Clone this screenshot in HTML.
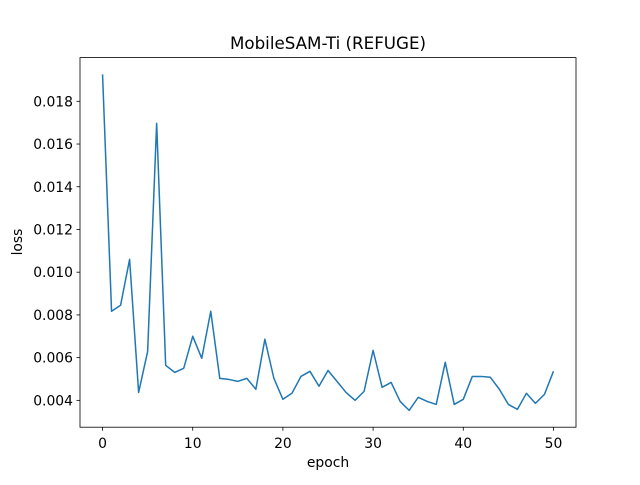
<!DOCTYPE html>
<html><head><meta charset="utf-8"><style>
body{margin:0;background:#fff;font-family:"Liberation Sans","DejaVu Sans",sans-serif}
svg text{font-family:"DejaVu Sans","Liberation Sans",sans-serif}
</style></head><body>
<svg id="chart" width="640" height="480" xmlns="http://www.w3.org/2000/svg">
<rect width="640" height="480" fill="#fff"/>
<text x="328" y="49" text-anchor="middle" font-size="16.7">MobileSAM-Ti (REFUGE)</text>
<g id="xt"></g><g id="yt"></g>
<path id="line" fill="none" stroke="#1f77b4" stroke-width="1.5" stroke-linejoin="round"/>
<rect x="80" y="57.6" width="496" height="369.6" fill="none" stroke="#000" stroke-width="0.8"/>
<text x="328" y="467" text-anchor="middle" font-size="13.9">epoch</text>
<text x="22" y="242" text-anchor="middle" font-size="13.9" transform="rotate(-90 22 242)">loss</text>
</svg>
<script>
const epochs=[...Array(51).keys()];
const loss=[0.01926,0.00817,0.00845,0.0106,0.00437,0.00629,0.01697,0.00564,0.00531,0.0055,0.0070,0.00597,0.00817,0.00503,0.00498,0.00489,0.00503,0.00452,0.00686,0.00503,0.00405,0.00433,0.00512,0.00536,0.00466,0.0054,0.00489,0.00437,0.004,0.00442,0.00634,0.00461,0.00484,0.00395,0.00353,0.00414,0.00395,0.00381,0.00578,0.00381,0.00405,0.00512,0.00512,0.00508,0.00452,0.00381,0.00358,0.00433,0.00386,0.00428,0.00536];
const xTicks=[0,10,20,30,40,50];
const yTicks=[0.004,0.006,0.008,0.010,0.012,0.014,0.016,0.018];
const NS="http://www.w3.org/2000/svg";
const xmin=-2.5,xmax=52.5;
const lo=Math.min(...loss),hi=Math.max(...loss),pad=(hi-lo)*0.05;
const ymin=lo-pad,ymax=hi+pad;
const X=v=>80+(v-xmin)/(xmax-xmin)*496;
const Y=v=>427.2-(v-ymin)/(ymax-ymin)*369.6;
document.getElementById('line').setAttribute('d',loss.map((v,i)=>(i?'L':'M')+X(epochs[i]).toFixed(2)+' '+Y(v).toFixed(2)).join(''));
const xt=document.getElementById('xt'),yt=document.getElementById('yt');
xTicks.forEach(t=>{
 const l=document.createElementNS(NS,'line');
 l.setAttribute('x1',X(t));l.setAttribute('x2',X(t));l.setAttribute('y1',427.2);l.setAttribute('y2',430.7);l.setAttribute('stroke','#000');l.setAttribute('stroke-width','0.8');
 
 
 xt.appendChild(l);
 const s=document.createElementNS(NS,'text');
 s.setAttribute('x',X(t));s.setAttribute('y',448);s.setAttribute('text-anchor','middle');s.setAttribute('font-size','13.9');s.textContent=t;
 
 
 xt.appendChild(s);
});
yTicks.forEach(t=>{
 const l=document.createElementNS(NS,'line');
 l.setAttribute('x1',76.5);l.setAttribute('x2',80);l.setAttribute('y1',Y(t));l.setAttribute('y2',Y(t));l.setAttribute('stroke','#000');l.setAttribute('stroke-width','0.8');
 
 
 yt.appendChild(l);
 const s=document.createElementNS(NS,'text');
 s.setAttribute('x',73);s.setAttribute('y',Y(t)+5);s.setAttribute('text-anchor','end');s.setAttribute('font-size','13.9');s.textContent=t.toFixed(3);
 
 
 yt.appendChild(s);
});
</script>
</body></html>
